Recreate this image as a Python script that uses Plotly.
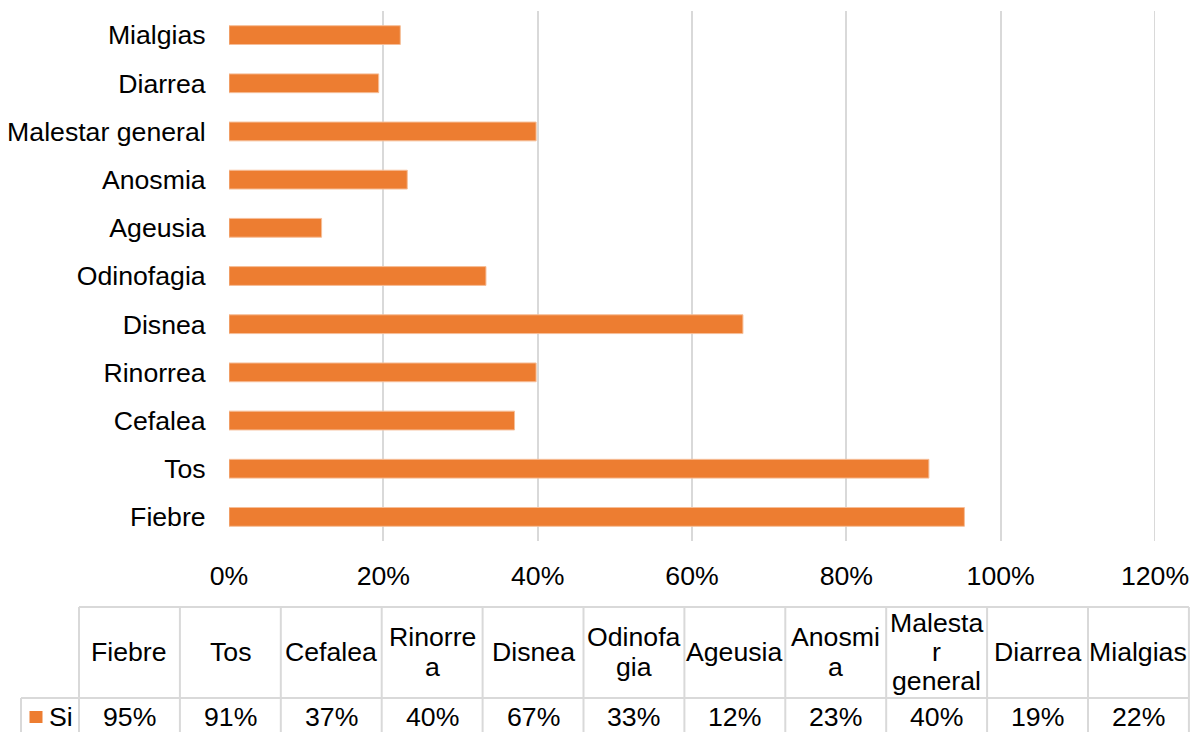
import plotly.graph_objects as go

# Symptom frequencies (% of patients answering "Si")
categories = ["Fiebre", "Tos", "Cefalea", "Rinorrea", "Disnea", "Odinofagia",
              "Ageusia", "Anosmia", "Malestar general", "Diarrea", "Mialgias"]
si_pct = [95.3, 90.7, 37.0, 39.8, 66.6, 33.3, 12.0, 23.1, 39.8, 19.4, 22.2]
series_name = "Si"

# Column headings of the data table, wrapped the way the cells wrap them
header_lines = [["Fiebre"], ["Tos"], ["Cefalea"], ["Rinorre", "a"], ["Disnea"],
                ["Odinofa", "gia"], ["Ageusia"], ["Anosmi", "a"],
                ["Malesta", "r", "general"], ["Diarrea"], ["Mialgias"]]
x_ticks = [0, 20, 40, 60, 80, 100, 120]

BAR_COLOR = "#ED7D31"
GRID = "#D9D9D9"
FONT = "Liberation Sans, Arial, sans-serif"
FS = 26.67

W, H = 1193, 732
ML, MR, MT, MB = 229, 38, 11, 191
PW, PH = W - ML - MR, H - MT - MB


def px(x):
    """pixel column -> paper x"""
    return (x - ML) / PW


def py(y):
    """pixel row -> paper y"""
    return (H - MB - y) / PH


fig = go.Figure()
fig.add_trace(go.Bar(
    x=si_pct, y=categories, orientation="h", name=series_name,
    width=0.39,
    marker=dict(color=BAR_COLOR, line=dict(color="#F6BE98", width=1)),
    showlegend=False,
))

# ---- data table under the chart ----
shapes = []
annotations = []
col_w = 100.9
tbl_left = 79
top, mid, bottom = 607, 698, 745
n = len(categories)
line = dict(color=GRID, width=2)
# horizontal rules
shapes.append(dict(type="line", xref="paper", yref="paper",
                   x0=px(tbl_left), x1=px(tbl_left + n * col_w),
                   y0=py(top), y1=py(top), line=line))
shapes.append(dict(type="line", xref="paper", yref="paper",
                   x0=px(21), x1=px(tbl_left + n * col_w),
                   y0=py(mid), y1=py(mid), line=line))
# legend cell left border
shapes.append(dict(type="line", xref="paper", yref="paper",
                   x0=px(21), x1=px(21), y0=py(mid), y1=py(bottom), line=line))
# column borders
for k in range(n + 1):
    xk = tbl_left + k * col_w
    shapes.append(dict(type="line", xref="paper", yref="paper",
                       x0=px(xk), x1=px(xk), y0=py(top), y1=py(bottom), line=line))

# gridline at the right end of the value axis
shapes.append(dict(type="line", xref="x", yref="paper", x0=x_ticks[-1], x1=x_ticks[-1],
                   y0=0, y1=1, line=dict(color=GRID, width=2), layer="below"))

line_gap = 29.3
for i, (lines, v) in enumerate(zip(header_lines, si_pct)):
    cx = tbl_left + (i + 0.5) * col_w
    start = 652 - (len(lines) - 1) * line_gap / 2
    for j, t in enumerate(lines):
        annotations.append(dict(x=px(cx), y=py(start + j * line_gap),
                                xref="paper", yref="paper", text=t,
                                showarrow=False, xanchor="center", yanchor="middle",
                                font=dict(family=FONT, size=FS, color="#000000")))
    annotations.append(dict(x=px(cx), y=py(717), xref="paper", yref="paper",
                            text=f"{round(v)}%", showarrow=False,
                            xanchor="center", yanchor="middle",
                            font=dict(family=FONT, size=FS, color="#000000")))

# legend key in the table
shapes.append(dict(type="rect", xref="paper", yref="paper",
                   x0=px(29.5), x1=px(42.5), y0=py(711), y1=py(723),
                   fillcolor=BAR_COLOR, line=dict(width=0)))
annotations.append(dict(x=px(47), y=py(717), xref="paper", yref="paper",
                        text=series_name, showarrow=False,
                        xanchor="left", yanchor="middle",
                        font=dict(family=FONT, size=FS, color="#000000")))

fig.update_layout(
    width=W, height=H,
    margin=dict(l=ML, r=MR, t=MT, b=MB, pad=0),
    plot_bgcolor="white", paper_bgcolor="white",
    font=dict(family=FONT, size=FS, color="#000000"),
    bargap=0.6,
    xaxis=dict(range=[0, 120], tickvals=x_ticks, ticktext=[f"{t}%" for t in x_ticks],
               showgrid=True, gridcolor=GRID, gridwidth=2,
               zeroline=False, showline=False, automargin=False,
               ticks="outside", ticklen=11, tickcolor="rgba(0,0,0,0)",
               fixedrange=True),
    yaxis=dict(categoryorder="array", categoryarray=categories,
               range=[-0.5, len(categories) - 0.5],
               showgrid=False, zeroline=False, showline=False, automargin=False,
               ticks="outside", ticklen=17, tickcolor="rgba(0,0,0,0)",
               fixedrange=True),
    shapes=shapes,
    annotations=annotations,
)

fig.write_html("out.html", config={"displayModeBar": False})
